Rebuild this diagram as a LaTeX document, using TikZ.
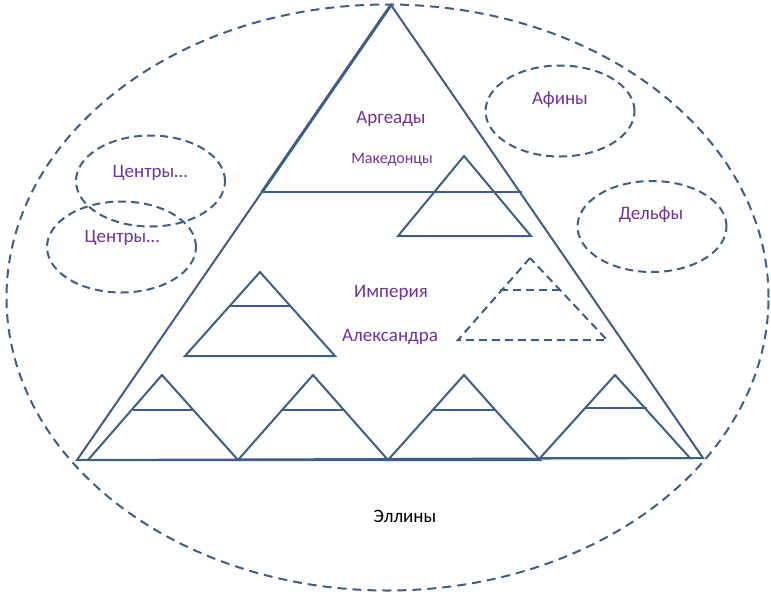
\documentclass[tikz,border=0pt]{standalone}
\usepackage{fontspec}
\setmainfont{Carlito}
\usetikzlibrary{shapes.geometric}
\definecolor{ln}{HTML}{3B5E8C}
\definecolor{tx}{HTML}{7030A0}
\tikzset{
  solidline/.style={draw=ln, line width=2pt, line join=miter},
  dashline/.style={draw=ln, line width=2pt, dash pattern=on 8pt off 5pt},
  oval/.style={ellipse, draw=ln, line width=2pt, dash pattern=on 8pt off 5pt, minimum width=149pt, minimum height=91pt, inner sep=0pt},
  lbl/.style={text=tx, font=\fontsize{19}{22}\selectfont, inner sep=0pt},
  lblsmall/.style={text=tx, font=\fontsize{16}{19}\selectfont, inner sep=0pt},
}
\begin{document}
\begin{tikzpicture}[x=1pt,y=-1pt]
\useasboundingbox (0,0) rectangle (771,598);
% outer ellipse
\node[ellipse, draw=ln, line width=2pt, dash pattern=on 9pt off 6pt, minimum width=762pt, minimum height=586pt, inner sep=0pt] (hellas) at (387.5,297.5) {};
% big triangle
\coordinate (A) at (391,5);
\coordinate (BL) at (77,460);
\coordinate (BR) at (703,458);
\draw[solidline] (A) -- (BL) -- (BR) -- cycle;
\coordinate (hl) at (262,192);
\coordinate (hr) at (522,192);
\draw[draw=ln, line width=3pt] (A) -- (hl);
\draw[solidline] (hl) -- (hr);
% Macedonians triangle
\coordinate (ma) at (464,156);
\coordinate (ml) at (398,236);
\coordinate (mr) at (531,236);
\draw[solidline] (ma) -- (ml) -- (mr) -- cycle;
% left middle triangle
\coordinate (la) at (260,272);
\coordinate (ll) at (185,356);
\coordinate (lr) at (335,356);
\draw[solidline] (la) -- (ll) -- (lr) -- cycle;
\draw[solidline] (229,306) -- (290,306);
% dashed triangle
\coordinate (da) at (530,258);
\coordinate (dl) at (458,340);
\coordinate (dr) at (607,340);
\draw[dashline] (da) -- (dl) -- (dr) -- cycle;
\draw[dashline] (500,290) -- (562,290);
% bottom row
\foreach \ax/\bl/\br/\by/\my/\ml/\mr [count=\i] in {162/88/238/460/410/133/193, 313/238/388/460/410/283/344, 464/388/540/460/410/434/496, 615/540/690/458/408/585/647}{
  \coordinate (s\i a) at (\ax,375);
  \coordinate (s\i l) at (\bl,\by);
  \coordinate (s\i r) at (\br,\by);
  \draw[solidline] (s\i a) -- (s\i l) -- (s\i r) -- cycle;
  \draw[solidline] (\ml,\my) -- (\mr,\my);
}
% small ellipses
\node[oval] (c1) at (150.5,181) {};
\node[oval] (c2) at (121.5,247) {};
\node[oval] (ath) at (560,111) {};
\node[oval] (del) at (652,226.5) {};
% texts
\node[lbl] (t1) at (150,173) {Центры…};
\node[lbl] (t2) at (122,238) {Центры…};
\node[lbl] (t3) at (560,100) {Афины};
\node[lbl] (t4) at (651,215) {Дельфы};
\node[lbl] (t5) at (391,119) {Аргеады};
\node[lblsmall] (t6) at (392,160) {Македонцы};
\node[lbl] (t7) at (391,293) {Империя};
\node[lbl] (t8) at (390,337) {Александра};
\node[lbl, text=black] (t9) at (405,516) {Эллины};
\end{tikzpicture}
\end{document}
